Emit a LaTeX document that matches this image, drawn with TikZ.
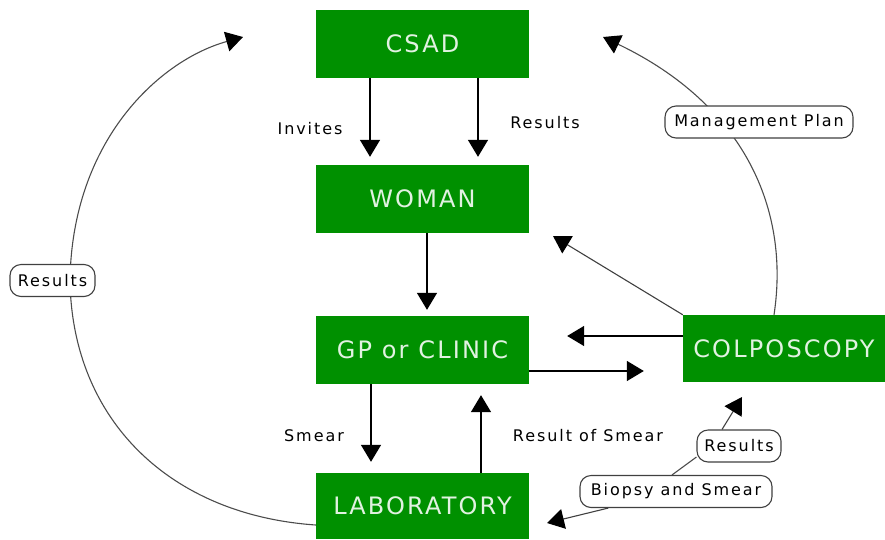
\documentclass[tikz,border=0pt]{standalone}
\usepackage{fontspec}
\setmainfont{DejaVu Sans}
\newfontfamily\boxfont[LetterSpace=9]{DejaVu Sans}
\newfontfamily\lblfont[LetterSpace=12]{DejaVu Sans}
\usetikzlibrary{arrows.meta}
\definecolor{cgreen}{RGB}{0,144,0}
\definecolor{ctext}{RGB}{225,242,225}
\pgfdeclarelayer{bg}
\pgfsetlayers{bg,main}
\begin{document}
\begin{tikzpicture}[x=1pt,y=-1pt,
  concept/.style={fill=cgreen, inner sep=0pt, minimum width=213pt, minimum height=68pt,
    text=ctext, font=\boxfont\fontsize{24}{28}\selectfont},
  link/.style={draw=black!75, line width=1.1pt, rounded corners=11pt, fill=white,
    inner sep=0pt, minimum height=32pt, font=\lblfont\fontsize{16}{19}\selectfont},
  plain/.style={inner sep=0pt, font=\lblfont\fontsize{16}{19}\selectfont},
  arr/.style={line width=1.5pt, -{Triangle[length=17pt,width=20pt,color=black]}},
  thinarr/.style={line width=1.1pt, draw=black!75, -{Triangle[length=17pt,width=20pt,color=black]}},
  curve/.style={line width=1.1pt, draw=black!70},
]
\useasboundingbox (0,0) rectangle (885,539);
\node[concept] (csad) at (422.5,44) {CSAD};
\node[concept] (woman) at (422.5,199) {WOMAN};
\node[concept] (gp) at (422.5,350) {GP or CLINIC};
\node[concept, minimum height=66pt] (lab) at (422.5,506) {LABORATORY};
\node[concept, minimum width=202pt, minimum height=67pt] (colp) at (784,348.5) {COLPOSCOPY};

\node[plain] (linv) at (310,129) {Invites};
\node[plain] (lres) at (545,123) {Results};
\node[plain] (lsm) at (314,436) {Smear};
\node[plain] (lros) at (588,436) {Result of Smear};
\node[link, minimum width=85pt] (lres2) at (52.5,280.5) {Results};
\node[link, minimum width=188pt] (lmp) at (759,122) {Management Plan};
\node[link, minimum width=84pt] (lres3) at (739,446) {Results};
\node[link, minimum width=192pt] (lbio) at (676,491.5) {Biopsy and Smear};

\coordinate (tl) at (243,37);
\coordinate (tr) at (603,37);
\coordinate (tw) at (553,236);
\coordinate (tlab) at (547,523);
\coordinate (tcol) at (742,397);

\begin{pgfonlayer}{bg}
\draw[arr, shorten >=8pt] ([xshift=-52.5pt]csad.south) -- ([xshift=-52.5pt]woman.north);
\draw[arr, shorten >=8pt] ([xshift=55.5pt]csad.south) -- ([xshift=55.5pt]woman.north);
\draw[arr, shorten >=6pt] ([xshift=4.5pt]woman.south) -- ([xshift=4.5pt]gp.north);
\draw[arr, shorten >=11pt] ([xshift=-51.5pt]gp.south) -- ([xshift=-51.5pt]lab.north);
\draw[arr, shorten >=11pt] ([xshift=58.5pt]lab.north) -- ([xshift=58.5pt]gp.south);
\draw[arr, shorten >=38pt] ([yshift=12.5pt]colp.west) -- ([yshift=12.5pt]colp.west -| gp.east);
\draw[arr, shorten >=39pt] ([yshift=-21pt]gp.east) -- ([yshift=-21pt]gp.east -| colp.west);
\draw[thinarr] (colp.north west) -- (tw);
\draw[curve, -{Triangle[length=17pt,width=20pt,color=black]}]
  ([yshift=-19pt]lab.west) .. controls (170,515) and (72,420) .. ([xshift=17.5pt]lres2.center)
  .. controls (72,140) and (160,60) .. (tl);
\draw[curve, -{Triangle[length=17pt,width=20pt,color=black]}]
  ([xshift=-10pt]colp.north) .. controls (790,210) and (745,105) .. (tr);
\draw[thinarr] (lbio) -- (tlab);
\draw[curve] ([xshift=-4pt]lbio.north) -- ([yshift=-11pt]lres3.west);
\draw[thinarr] ([xshift=-17pt]lres3.north) -- (tcol);
\end{pgfonlayer}
\end{tikzpicture}
\end{document}
